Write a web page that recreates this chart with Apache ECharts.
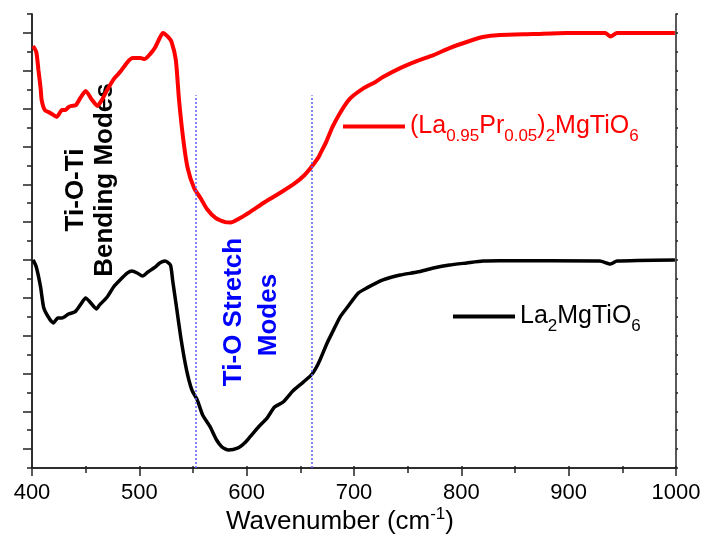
<!DOCTYPE html>
<html>
<head>
<meta charset="utf-8">
<title>FTIR La2MgTiO6</title>
<script src="https://cdn.jsdelivr.net/npm/echarts@6/dist/echarts.min.js"></script>
<style>
  html, body { margin: 0; padding: 0; background: #fff; }
  #chart { width: 704px; height: 541px; }
</style>
</head>
<body>
<div id="chart"></div>
<script>
// wavenumber (cm-1) and offset transmittance (arb. units)
const redWn = [401, 404, 406, 408, 409, 412, 417, 423, 428, 431, 434, 437, 441, 445, 450, 456, 461, 465, 470, 477,
  482, 489, 494, 501, 505, 510, 515, 519, 522, 527, 530, 534, 537, 541, 545, 551, 557, 563, 571, 580,
  585, 594, 603, 617, 631, 645, 654, 661, 667, 668, 674, 680, 687, 696, 708, 720, 727, 743, 759, 774,
  789, 805, 820, 836, 867, 898, 929, 934, 939, 945, 966, 999]
const redVal = [22.31, 21.99, 21.04, 20.09, 19.45, 18.92, 18.77, 18.56, 18.92, 18.92, 19.08, 19.14, 19.19, 19.56, 19.93, 19.45, 19.14, 19.45, 19.98, 20.62,
  20.93, 21.46, 21.67, 21.67, 21.62, 21.88, 22.26, 22.73, 23.00, 22.78, 22.52, 21.57, 19.45, 17.34, 15.86, 14.80, 14.27, 13.69, 13.22, 13.00,
  12.98, 13.22, 13.53, 14.06, 14.54, 15.06, 15.49, 15.96, 16.44, 16.55, 17.23, 18.03, 18.77, 19.51, 20.04, 20.41, 20.67, 21.14, 21.52, 21.83,
  22.20, 22.52, 22.78, 22.89, 22.94, 23.00, 23.00, 23.00, 22.81, 23.00, 23.00, 23.00]

const blackWn = [401, 404, 408, 411, 417, 420, 424, 428, 434, 440, 445, 450, 454, 460, 463, 470, 476, 482, 489, 493,
  498, 503, 508, 515, 519, 524, 529, 531, 535, 539, 544, 549, 554, 559, 566, 572, 577, 583, 592, 598,
  603, 611, 619, 626, 634, 643, 653, 661, 667, 675, 680, 687, 694, 704, 712, 727, 743, 759, 774, 789,
  805, 820, 836, 929, 939, 945, 999]
const blackVal = [11.00, 10.63, 9.57, 8.46, 7.82, 7.67, 7.93, 7.93, 8.14, 8.25, 8.62, 8.99, 8.78, 8.41, 8.62, 9.04, 9.57, 9.94, 10.31, 10.41,
  10.31, 10.15, 10.36, 10.63, 10.84, 10.94, 10.73, 9.94, 8.35, 6.77, 5.18, 4.12, 3.59, 2.80, 2.17, 1.48, 1.11, 0.95, 1.06, 1.32,
  1.64, 2.17, 2.64, 3.22, 3.49, 4.07, 4.55, 4.97, 5.55, 6.61, 7.19, 7.98, 8.51, 9.25, 9.52, 9.94, 10.20, 10.36, 10.57, 10.73,
  10.84, 10.94, 10.96, 10.94, 10.78, 10.94, 11.00]

// Ti-O stretch band limits and the height of the dotted guides
const stretchLines = [553, 661]
const guideTop = 19.7

const xTicks = [400, 500, 600, 700, 800, 900, 1000]
const yMajor = [1, 3, 5, 7, 9, 11, 13, 15, 17, 19, 21, 23]

const FONT = 'Liberation Sans, Arial, sans-serif'
const zip = (xs, ys) => xs.map((x, i) => [x, ys[i]])

const chart = echarts.init(document.getElementById('chart'))

const axisLine = { show: true, lineStyle: { color: '#222', width: 1.5 } }

const option = {
  animation: false,
  grid: { left: 32, right: 28, top: 14, bottom: 73, containLabel: false },
  xAxis: [
    {
      type: 'value', position: 'bottom', min: 400, max: 1000, interval: 100,
      axisLine: axisLine,
      axisTick: { show: true, inside: false, length: 8, lineStyle: { color: '#222', width: 1.5 } },
      minorTick: { show: true, splitNumber: 2, length: 5, lineStyle: { color: '#222', width: 1.5 } },
      splitLine: { show: false },
      minorSplitLine: { show: false },
      axisLabel: {
        show: true, margin: 14, fontSize: 22, color: '#000', fontFamily: FONT,
        customValues: xTicks,
        formatter: v => String(v)
      }
    },
    {
      type: 'value', position: 'top', min: 400, max: 1000, interval: 50,
      axisLine: axisLine,
      axisTick: { show: true, inside: false, length: 2, lineStyle: { color: '#222', width: 1.5 } },
      axisLabel: { show: false },
      splitLine: { show: false }
    }
  ],
  yAxis: [
    {
      type: 'value', position: 'left', min: 0, max: 24, interval: 1,
      axisLine: axisLine,
      axisTick: { show: true, inside: false, length: 5, lineStyle: { color: '#222', width: 1.5 } },
      axisLabel: { show: false },
      splitLine: { show: false }
    },
    {
      type: 'value', position: 'left', min: 0, max: 24,
      axisLine: axisLine,
      axisTick: { show: true, inside: false, length: 9, customValues: yMajor, lineStyle: { color: '#222', width: 1.5 } },
      axisLabel: { show: false },
      splitLine: { show: false }
    },
    {
      type: 'value', position: 'right', min: 0, max: 24, interval: 1,
      axisLine: axisLine,
      axisTick: { show: true, inside: false, length: 2, lineStyle: { color: '#222', width: 1.5 } },
      axisLabel: { show: false },
      splitLine: { show: false }
    }
  ],
  legend: [
    {
      data: ['(La0.95Pr0.05)2MgTiO6'],
      left: 343, top: 114, padding: 0,
      icon: 'rect', itemWidth: 62, itemHeight: 4,
      formatter: () => '{m|(La}{s|0.95}{m|Pr}{s|0.05}{m|)}{s|2}{m|MgTiO}{s|6}',
      textStyle: {
        color: '#ff0000',
        rich: {
          m: { fontSize: 25, fontFamily: FONT, color: '#ff0000' },
          s: { fontSize: 17, fontFamily: FONT, color: '#ff0000', padding: [20, 0, 0, 0] }
        }
      }
    },
    {
      data: ['La2MgTiO6'],
      left: 453, top: 304, padding: 0,
      icon: 'rect', itemWidth: 62, itemHeight: 4,
      formatter: () => '{m|La}{s|2}{m|MgTiO}{s|6}',
      textStyle: {
        color: '#000',
        rich: {
          m: { fontSize: 25, fontFamily: FONT, color: '#000' },
          s: { fontSize: 17, fontFamily: FONT, color: '#000', padding: [20, 0, 0, 0] }
        }
      }
    }
  ],
  series: [
    {
      name: '(La0.95Pr0.05)2MgTiO6', type: 'line', data: zip(redWn, redVal),
      showSymbol: false, smooth: 0.2,
      lineStyle: { color: '#ff0000', width: 4 }, itemStyle: { color: '#ff0000' }
    },
    {
      name: 'La2MgTiO6', type: 'line', data: zip(blackWn, blackVal),
      showSymbol: false, smooth: 0.2,
      lineStyle: { color: '#000', width: 3.5 }, itemStyle: { color: '#000' }
    },
    {
      name: 'guides', type: 'line', data: [], silent: true,
      markLine: {
        silent: true, symbol: 'none', label: { show: false },
        lineStyle: { color: '#5c5cff', type: [2, 2], width: 1.5 },
        data: stretchLines.map(x => [{ coord: [x, 0] }, { coord: [x, guideTop] }])
      }
    }
  ],
  graphic: [
    {
      type: 'text', x: 226, y: 522,
      style: {
        text: '{m|Wavenumber (cm}{p|-1}{m|)}', align: 'left', verticalAlign: 'middle',
        rich: {
          m: { fontSize: 26, fontFamily: FONT, fill: '#000' },
          p: { fontSize: 17, fontFamily: FONT, fill: '#000', padding: [0, 0, 16, 0] }
        }
      }
    },
    {
      type: 'text', x: 76, y: 190, rotation: Math.PI / 2,
      style: { text: 'Ti-O-Ti', font: 'bold 26px ' + FONT, fill: '#000', align: 'center', verticalAlign: 'middle' }
    },
    {
      type: 'text', x: 105, y: 180, rotation: Math.PI / 2,
      style: { text: 'Bending Modes', font: 'bold 26px ' + FONT, fill: '#000', align: 'center', verticalAlign: 'middle' }
    },
    {
      type: 'text', x: 234, y: 312, rotation: Math.PI / 2,
      style: { text: 'Ti-O Stretch', font: 'bold 26px ' + FONT, fill: '#0000ff', align: 'center', verticalAlign: 'middle' }
    },
    {
      type: 'text', x: 269, y: 315, rotation: Math.PI / 2,
      style: { text: 'Modes', font: 'bold 26px ' + FONT, fill: '#0000ff', align: 'center', verticalAlign: 'middle' }
    }
  ]
}

chart.setOption(option)
</script>
</body>
</html>
